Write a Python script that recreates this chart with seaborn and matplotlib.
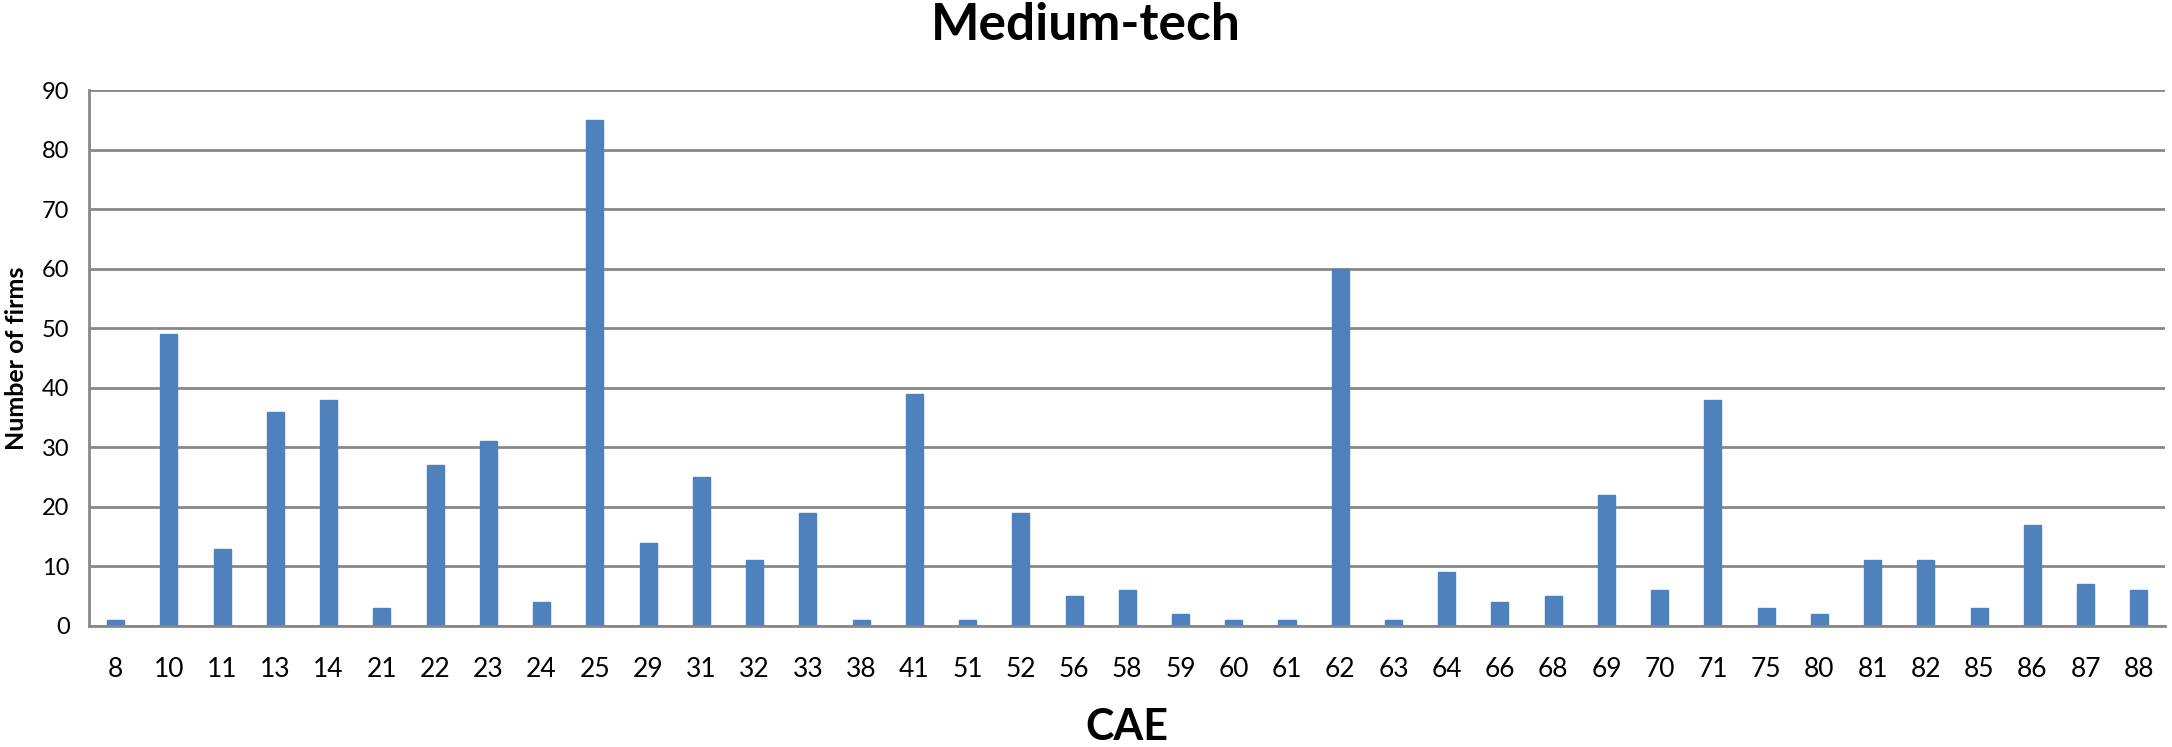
import matplotlib
matplotlib.use("Agg")
import matplotlib.pyplot as plt
import seaborn as sns
import pandas as pd

categories = ["8", "10", "11", "13", "14", "21", "22", "23", "24", "25", "29", "31", "32", "33",
              "38", "41", "51", "52", "56", "58", "59", "60", "61", "62", "63", "64", "66", "68",
              "69", "70", "71", "75", "80", "81", "82", "85", "86", "87", "88"]
firms = [1, 49, 13, 36, 38, 3, 27, 31, 4, 85, 14, 25, 11, 19,
         1, 39, 1, 19, 5, 6, 2, 1, 1, 60, 1, 9, 4, 5,
         22, 6, 38, 3, 2, 11, 11, 3, 17, 7, 6]
y_ticks = [0, 10, 20, 30, 40, 50, 60, 70, 80, 90]

sns.set_theme(style="white")
plt.rcParams['font.family'] = ['Lato', 'DejaVu Sans']

df = pd.DataFrame({"CAE": categories, "firms": firms})

fig = plt.figure(figsize=(21.72, 7.47), dpi=100)
ax = fig.add_axes([0.041, 0.162, 0.956, 0.7175])

sns.barplot(data=df, x="CAE", y="firms", order=categories, color="#4F81BD",
            saturation=1, width=0.32, ax=ax, edgecolor="#4F81BD")

ax.set_ylim(0, 90)
ax.set_yticks(y_ticks)
ax.set_xlim(-0.5, len(categories) - 0.5)
ax.yaxis.grid(True, color="#888888", linewidth=2.0)
ax.set_axisbelow(True)
for s in ["top", "right"]:
    ax.spines[s].set_visible(False)
for s in ["left", "bottom"]:
    ax.spines[s].set_color("#888888")
    ax.spines[s].set_linewidth(2.0)

ax.tick_params(axis="x", length=0, pad=22, labelsize=19, labelcolor="black")
ax.tick_params(axis="y", length=0, pad=14, labelsize=17, labelcolor="black")

ax.set_xlabel("CAE", fontsize=31, fontweight="bold", labelpad=18, color="black")
ax.set_ylabel("Number of firms", fontsize=18, fontweight="bold", labelpad=10, color="black")
fig.text(0.5, 0.966, "Medium-tech", ha="center", va="center",
         fontsize=37, fontweight="bold", color="black")

fig.savefig("out.png", dpi=100)
